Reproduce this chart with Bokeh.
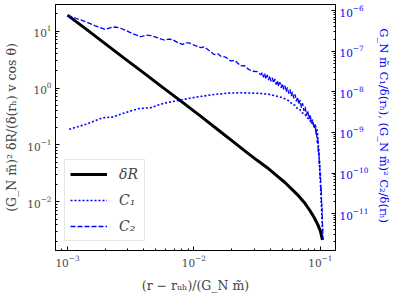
import numpy as np
from bokeh.plotting import figure
from bokeh.models import Range1d, LogAxis, LogScale, Legend, LegendItem, FixedTicker
from bokeh.embed import file_html
from bokeh.resources import INLINE

# ---- data (log10 values) ----
dR_log_x = [-3.0, -2.85, -2.7, -2.55, -2.4, -2.25, -2.1, -1.95, -1.8, -1.7, -1.6, -1.5,
            -1.42, -1.35, -1.28, -1.22, -1.17, -1.12, -1.08, -1.05, -1.02, -1.0, -0.983]
dR_log_y = [1.28, 1.03, 0.775, 0.52, 0.27, 0.015, -0.235, -0.49, -0.75, -0.925, -1.1, -1.27,
            -1.40, -1.53, -1.66, -1.79, -1.90, -2.03, -2.16, -2.27, -2.40, -2.51, -2.67]

c1_log_x = [-2.987, -2.92, -2.855, -2.79, -2.723, -2.644, -2.60, -2.539, -2.49, -2.433, -2.341,
            -2.28, -2.223, -2.117, -2.025, -1.92, -1.83, -1.73, -1.63, -1.538, -1.47, -1.406,
            -1.35, -1.30, -1.26, -1.24, -1.221, -1.20, -1.18, -1.16, -1.142, -1.12, -1.11,
            -1.09, -1.077, -1.06, -1.05, -1.035, -1.024, -1.012, -1.0, -0.99, -0.982]
c1_log_y = [-8.92, -8.86, -8.80, -8.72, -8.64, -8.62, -8.57, -8.51, -8.46, -8.41, -8.39,
            -8.32, -8.27, -8.21, -8.15, -8.10, -8.06, -8.03, -8.02, -8.03, -8.04, -8.06,
            -8.10, -8.14, -8.20, -8.24, -8.31, -8.33, -8.42, -8.44, -8.52, -8.55, -8.63,
            -8.66, -8.73, -8.76, -8.84, -8.86, -8.95, -9.5, -10.2, -10.9, -11.5]

c2_log_x = [-3.0, -2.93, -2.855, -2.78, -2.70, -2.65, -2.618, -2.58, -2.539, -2.48, -2.42,
            -2.38, -2.341, -2.29, -2.236, -2.20, -2.17, -2.13, -2.09, -2.06, -2.038, -1.99,
            -1.946, -1.92, -1.88, -1.84, -1.81, -1.788, -1.75, -1.709, -1.68, -1.65, -1.63,
            -1.60, -1.57, -1.538, -1.50, -1.47,
            -1.46, -1.45, -1.44, -1.43, -1.42, -1.41, -1.40, -1.39, -1.38, -1.37, -1.36, -1.35,
            -1.34, -1.33, -1.32, -1.31, -1.30, -1.29, -1.28, -1.27, -1.26, -1.25, -1.24, -1.23,
            -1.22, -1.21, -1.20, -1.19, -1.18, -1.17, -1.16, -1.15, -1.14, -1.13, -1.12, -1.11,
            -1.10, -1.09, -1.08, -1.07, -1.06, -1.05, -1.04, -1.035, -1.03, -1.025, -1.02,
            -1.016, -1.012, -1.008, -1.005, -1.002, -0.999, -0.996, -0.993, -0.99, -0.987,
            -0.984, -0.981, -0.979]
c2_log_y = [-6.11, -6.19, -6.27, -6.37, -6.46, -6.41, -6.40, -6.43, -6.485, -6.57, -6.64,
            -6.60, -6.61, -6.66, -6.72, -6.70, -6.71, -6.78, -6.83, -6.79, -6.79, -6.86,
            -6.91, -6.89, -6.98, -7.08, -7.06, -7.12, -7.14, -7.24, -7.22, -7.30, -7.36,
            -7.35, -7.44, -7.49, -7.50, -7.58,
            -7.52, -7.64, -7.55, -7.68, -7.58, -7.71, -7.61, -7.74, -7.65, -7.78, -7.68, -7.82,
            -7.72, -7.86, -7.76, -7.90, -7.80, -7.94, -7.85, -7.99, -7.89, -8.04, -7.94, -8.10,
            -8.00, -8.16, -8.06, -8.23, -8.13, -8.31, -8.20, -8.39, -8.28, -8.47, -8.37, -8.57,
            -8.46, -8.67, -8.56, -8.78, -8.68, -8.90, -8.80, -9.05, -8.95, -9.25, -9.15,
            -9.50, -9.40, -9.80, -9.70, -10.10, -10.0, -10.45, -10.35, -10.8, -10.75,
            -11.2, -11.4, -11.65]

x_major = [1e-3, 1e-2, 1e-1]
y_left_major = [1e-2, 1e-1, 1e0, 1e1]
y_right_major = [1e-11, 1e-10, 1e-9, 1e-8, 1e-7, 1e-6]

x_label = "(r − rᵤₕ)/(G_N m̃)"
y_left_label = "(G_N m̃)² δR/(δ(rₕ) v cos θ)"
y_right_label = "G_N m̃ C₁/δ(rₕ),  (G_N m̃)² C₂/δ(rₕ)"
legend_labels = ["δR", "C₁", "C₂"]

def minors(lo_exp, hi_exp):
    out = []
    for e in range(lo_exp, hi_exp):
        for m in range(2, 10):
            out.append(m * 10.0 ** e)
    return out

x_dR = 10 ** np.array(dR_log_x); y_dR = 10 ** np.array(dR_log_y)
x_C1 = 10 ** np.array(c1_log_x); y_C1 = 10 ** np.array(c1_log_y)
x_C2 = 10 ** np.array(c2_log_x); y_C2 = 10 ** np.array(c2_log_y)

SERIF = "DejaVu Serif"
BLUE = "#0000ff"

p = figure(frame_width=280, frame_height=246, x_axis_type="log", y_axis_type="log",
           x_range=Range1d(10 ** -3.095, 10 ** -0.88),
           y_range=Range1d(10 ** -2.854, 10 ** 1.467),
           output_backend="svg", toolbar_location=None,
           min_border_left=55, min_border_right=62, min_border_top=4, min_border_bottom=44,
           background_fill_color="white", border_fill_color="white")
p.extra_y_ranges = {"r": Range1d(10 ** -11.91, 10 ** -5.845)}
p.extra_y_scales = {"r": LogScale()}

p.xgrid.visible = False
p.ygrid.visible = False
p.outline_line_color = "black"
p.outline_line_width = 1

raxis = LogAxis(y_range_name="r")
p.add_layout(raxis, "right")

p.xaxis.ticker = FixedTicker(ticks=x_major, minor_ticks=minors(-4, 0))
p.yaxis[0].ticker = FixedTicker(ticks=y_left_major, minor_ticks=minors(-3, 2))
raxis.ticker = FixedTicker(ticks=y_right_major, minor_ticks=minors(-12, -5))

for ax in [p.xaxis[0], p.yaxis[0], raxis]:
    ax.major_tick_in = 4
    ax.major_tick_out = 0
    ax.minor_tick_in = 2
    ax.minor_tick_out = 0
    ax.axis_line_color = "black"
    ax.major_label_text_font = SERIF
    ax.major_label_text_font_size = "10.5px"
    ax.axis_label_text_font = SERIF
    ax.axis_label_text_font_style = "normal"
    ax.axis_label_text_font_size = "12.5px"
    ax.major_label_standoff = 4

p.xaxis.axis_label = x_label
p.xaxis.axis_label_standoff = 8
p.yaxis[0].axis_label = y_left_label
raxis.major_label_text_color = BLUE
raxis.axis_label = y_right_label
raxis.axis_label_text_color = BLUE
raxis.axis_label_text_font_size = "11.5px"
raxis.axis_label_standoff = 6

r_dR = p.line(x_dR, y_dR, line_color="black", line_width=3)
r_C1 = p.line(x_C1, y_C1, line_color=BLUE, line_width=1.6, line_dash="2 2", y_range_name="r")
r_C2 = p.line(x_C2, y_C2, line_color=BLUE, line_width=1.3, line_dash="5 2", y_range_name="r")

legend = Legend(items=[LegendItem(label=legend_labels[0], renderers=[r_dR]),
                       LegendItem(label=legend_labels[1], renderers=[r_C1]),
                       LegendItem(label=legend_labels[2], renderers=[r_C2])],
                location=(9, 9), margin=0, padding=5, spacing=8,
                label_height=18, glyph_height=18, glyph_width=37, label_standoff=12,
                label_text_font=SERIF, label_text_font_style="italic",
                label_text_font_size="14px",
                border_line_color="#cccccc", border_line_width=1,
                background_fill_alpha=0.8)
p.add_layout(legend)

open("out.html", "w").write(file_html(p, INLINE))
